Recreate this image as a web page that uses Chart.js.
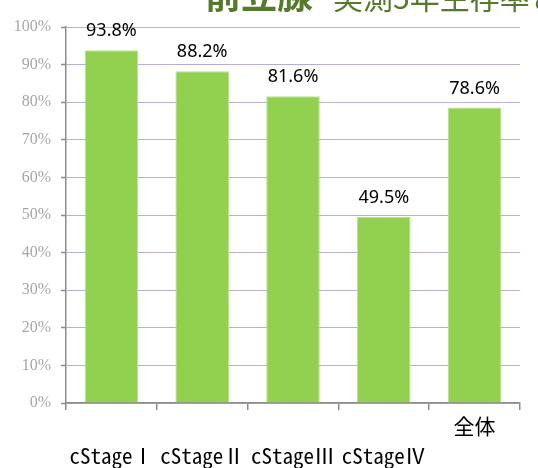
<!DOCTYPE html>
<html>
<head>
<meta charset="utf-8">
<script src="https://cdn.jsdelivr.net/npm/chart.js@4"></script>
<style>
  html, body { margin:0; padding:0; background:#fff; }
  #wrap { position:relative; width:538px; height:468px; }
</style>
</head>
<body>
<div id="wrap"><canvas id="c" width="538" height="468"></canvas></div>
<script>
/* 前立腺 — 病期別 実測5年生存率 */
const categories = [['', 'cStageⅠ'], ['', 'cStageⅡ'], ['', 'cStageⅢ'], ['', 'cStageⅣ'], '全体'];
const survival = [93.8, 88.2, 81.6, 49.5, 78.6];
const yTicks = [0, 10, 20, 30, 40, 50, 60, 70, 80, 90, 100];
const titleBig = '前立腺';
const titleSmall = '実測5年生存率と相対5年生存率';

const C = { bar:'#92d050', edge:'#b8e290', axis:'#8c8c8c', grid:'#b9acd6',
            tick:'#a6a6a6', title:'#567a2c', text:'#000' };
const LBL = '"Noto Sans Mono CJK JP", "Liberation Mono", "Noto Sans CJK JP"';

/* title sits mostly above the canvas — only its lower edge shows */
const titlePlugin = {
  id: 'cutTitle',
  afterDraw(chart) {
    const ctx = chart.ctx;
    ctx.save();
    ctx.fillStyle = C.title;
    ctx.textBaseline = 'alphabetic';
    ctx.textAlign = 'left';
    ctx.font = 'bold 36px "Noto Sans CJK JP"';
    ctx.fillText(titleBig, 205, 9);
    ctx.font = '30px "Noto Sans CJK JP"';
    ctx.fillText(titleSmall, 333, 9);
    ctx.restore();
  }
};

/* value labels above each bar */
const valuePlugin = {
  id: 'values',
  afterDatasetsDraw(chart) {
    const ctx = chart.ctx;
    const meta = chart.getDatasetMeta(0);
    ctx.save();
    ctx.fillStyle = C.text;
    ctx.font = '18px "Noto Sans"';
    ctx.textAlign = 'center';
    ctx.textBaseline = 'middle';
    meta.data.forEach((b, i) => ctx.fillText(survival[i].toFixed(1) + '%', b.x, b.y - 19));
    ctx.restore();
  }
};

function draw() {
  new Chart(document.getElementById('c'), {
    type: 'bar',
    data: { labels: categories,
      datasets: [{ data: survival, backgroundColor: C.bar, borderColor: C.edge, borderWidth: 1,
                   categoryPercentage: 1, barPercentage: 0.59 }] },
    options: {
      responsive: false, animation: false,
      layout: { padding: { top: 27, right: 18 } },
      plugins: { legend: { display: false }, tooltip: { enabled: false }, title: { display: false } },
      scales: {
        x: {
          grid: { display: true, drawOnChartArea: false, offset: true, tickLength: 7,
                  tickColor: C.axis, lineWidth: 1.5 },
          border: { color: C.axis, width: 1.5 },
          ticks: { color: C.text, padding: 1, maxRotation: 0, autoSkip: false,
                   font: { family: LBL, size: 21, lineHeight: '30px' } },
          afterFit(s) { s.height = 65; }
        },
        y: {
          min: 0, max: 100,
          afterBuildTicks(s) { s.ticks = yTicks.map(v => ({ value: v })); },
          grid: { color: C.grid, borderDash: [1, 2], lineWidth: 1, tickLength: 5,
                  tickColor: C.axis, tickBorderDash: [], tickWidth: 1.5 },
          border: { color: C.axis, width: 1.5 },
          ticks: { color: C.tick, padding: 10, callback: v => v + '%',
                   font: { family: '"Liberation Serif"', size: 16 } },
          afterFit(s) { s.width = 66; }
        }
      }
    },
    plugins: [titlePlugin, valuePlugin]
  });
}

document.fonts.load('21px ' + LBL, 'cStageⅠ全体').then(draw, draw);
</script>
</body>
</html>
